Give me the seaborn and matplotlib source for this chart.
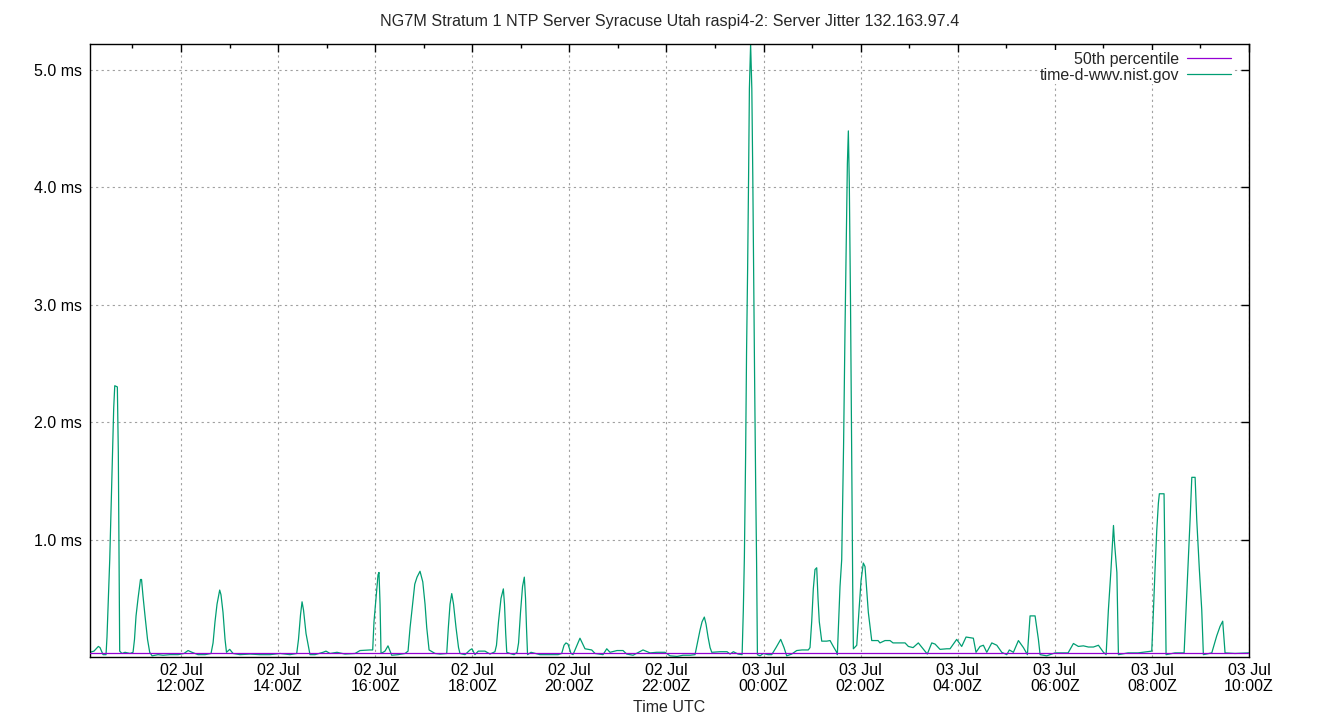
import pandas as pd
import matplotlib
matplotlib.use("Agg")
import matplotlib.pyplot as plt
import matplotlib.dates as mdates
import seaborn as sns

# minutes after 02 Jul 10:00Z and server jitter in ms
minutes = [7.5, 12.4, 17.8, 19.9, 23.6, 27.3, 28.5, 30.4, 31.9, 33.1, 34.4, 35.6, 36.8, 38.1,
           41.3, 42.5, 43.7, 44.2, 47.1, 50.8, 57.0, 60.7, 62.5, 64.4, 66.9, 69.9, 71.2, 73.0,
           75.5, 78.6, 81.3, 84.2, 91.6, 97.8, 106.4, 116.3, 123.7, 128.7, 133.6, 141.0, 149.7,
           157.1, 159.6, 162.0, 164.5, 167.8, 169.4, 171.9, 174.4, 176.2, 180.2, 184.3, 192.9,
           205.3, 217.6, 230.0, 242.4, 254.7, 263.0, 265.2, 267.7, 269.6, 271.4, 274.5, 279.4,
           285.6, 295.5, 299.2, 304.2, 312.8, 322.7, 335.1, 341.2, 353.6, 356.9, 358.5, 361.0,
           363.5, 364.7, 366.0, 367.2, 372.1, 375.8, 380.4, 388.2, 396.9, 400.6, 403.1, 405.5,
           408.9, 411.7, 415.4, 418.8, 421.6, 423.7, 426.6, 434.0, 440.1, 448.4, 450.4, 452.5,
           454.6, 456.8, 459.9, 463.0, 464.8, 471.0, 477.2, 479.6, 483.3, 487.4, 495.7, 501.9,
           508.0, 509.9, 512.4, 515.5, 518.4, 519.8, 521.3, 522.6, 526.6, 531.6, 535.3, 537.2,
           539.6, 542.1, 544.3, 545.8, 547.0, 548.3, 552.6, 563.7, 576.1, 586.0, 590.5, 593.4,
           595.8, 598.3, 602.0, 604.5, 613.1, 619.3, 627.6, 631.7, 641.6, 646.2, 650.2, 658.9,
           666.3, 670.9, 678.7, 691.0, 699.7, 708.0, 718.2, 724.4, 733.1, 740.5, 749.2, 755.3,
           759.1, 761.5, 764.0, 766.8, 768.9, 771.4, 773.9, 776.0, 786.2, 794.9, 798.6, 802.7,
           808.5, 813.5, 815.0, 816.3, 817.8, 819.0, 820.3, 821.5, 822.5, 824.0, 825.5, 826.7,
           827.7, 828.9, 830.2, 831.4, 832.4, 835.7, 839.7, 845.5, 850.1, 855.4, 861.2, 865.3,
           868.6, 874.8, 881.0, 887.5, 895.3, 897.4, 899.5, 901.5, 903.6, 905.7, 907.3, 908.9,
           911.9, 918.1, 922.2, 926.2, 930.4, 931.2, 934.5, 936.6, 938.9, 940.7, 942.3, 943.6,
           944.8, 946.0, 947.5, 948.8, 950.2, 951.0, 955.2, 958.0, 960.5, 963.3, 965.4, 969.5,
           973.7, 981.5, 983.9, 990.1, 996.3, 1000.0, 1008.7, 1014.9, 1019.0, 1024.8, 1031.3,
           1037.1, 1042.4, 1047.9, 1052.0, 1058.1, 1066.4, 1070.5, 1078.7, 1084.9, 1090.3,
           1099.3, 1102.6, 1107.6, 1111.7, 1115.9, 1122.1, 1128.3, 1134.4, 1140.6, 1143.8,
           1148.8, 1155.0, 1161.2, 1166.1, 1169.4, 1175.6, 1179.7, 1181.8, 1190.0, 1200.3,
           1216.4, 1223.0, 1229.1, 1235.3, 1241.5, 1247.7, 1253.9, 1260.1, 1263.4, 1266.2,
           1269.2, 1271.7, 1272.5, 1273.7, 1276.7, 1278.6, 1290.6, 1302.9, 1319.8, 1321.8,
           1323.9, 1326.0, 1328.0, 1329.2, 1335.0, 1336.3, 1337.5, 1348.6, 1359.8, 1362.2,
           1364.7, 1367.2, 1369.3, 1373.4, 1375.4, 1378.6, 1381.6, 1383.6, 1394.0, 1400.1,
           1404.2, 1407.5, 1410.4, 1422.7, 1440.0]
jitter_ms = [0.04, 0.05, 0.09, 0.08, 0.02, 0.02, 0.17, 0.55, 0.83, 1.15, 1.48, 1.82, 2.12, 2.31,
             2.30, 1.74, 0.62, 0.05, 0.03, 0.04, 0.03, 0.04, 0.15, 0.35, 0.50, 0.66, 0.66, 0.52,
             0.35, 0.15, 0.04, 0.01, 0.02, 0.015, 0.02, 0.02, 0.03, 0.055, 0.04, 0.02, 0.02,
             0.03, 0.12, 0.30, 0.45, 0.57, 0.53, 0.38, 0.15, 0.04, 0.065, 0.03, 0.02,
             0.025, 0.02, 0.02, 0.03, 0.02, 0.03, 0.15, 0.36, 0.47, 0.40, 0.20, 0.02,
             0.02, 0.04, 0.05, 0.03, 0.04, 0.025, 0.03, 0.055, 0.06, 0.06, 0.30, 0.50,
             0.70, 0.72, 0.45, 0.03, 0.05, 0.095, 0.015, 0.02, 0.03, 0.05, 0.25, 0.40,
             0.62, 0.68, 0.73, 0.64, 0.45, 0.25, 0.06, 0.03, 0.025, 0.03, 0.25, 0.45,
             0.54, 0.45, 0.25, 0.08, 0.03, 0.02, 0.06, 0.07, 0.02, 0.05, 0.05, 0.025,
             0.045, 0.10, 0.30, 0.50, 0.58, 0.45, 0.20, 0.04, 0.03, 0.02, 0.04, 0.12,
             0.38, 0.60, 0.68, 0.50, 0.25, 0.02, 0.04, 0.02, 0.02, 0.02, 0.03, 0.10,
             0.12, 0.11, 0.03, 0.02, 0.16, 0.07, 0.06, 0.03, 0.02, 0.07, 0.04, 0.055,
             0.055, 0.025, 0.015, 0.06, 0.035, 0.04, 0.04, 0.01, 0.005, 0.015, 0.015, 0.02,
             0.15, 0.23, 0.30, 0.34, 0.28, 0.17, 0.08, 0.04, 0.045, 0.045, 0.025, 0.045,
             0.025, 0.02, 0.40, 0.85, 1.70, 2.60, 3.30, 4.09, 4.84, 5.22, 4.84, 4.09,
             3.30, 2.40, 1.50, 0.80, 0.02, 0.01, 0.03, 0.02, 0.02, 0.08, 0.15, 0.08,
             0.01, 0.025, 0.055, 0.06, 0.06, 0.08, 0.30, 0.58, 0.745, 0.76, 0.50, 0.30,
             0.135, 0.135, 0.14, 0.09, 0.04, 0.02, 0.60, 0.83, 1.80, 2.80, 3.60, 4.20,
             4.48, 4.03, 3.00, 1.80, 0.60, 0.07, 0.10, 0.40, 0.65, 0.80, 0.77, 0.38,
             0.14, 0.14, 0.12, 0.14, 0.14, 0.12, 0.12, 0.12, 0.09, 0.08, 0.12,
             0.07, 0.025, 0.12, 0.11, 0.065, 0.07, 0.07, 0.15, 0.09, 0.17,
             0.16, 0.04, 0.09, 0.10, 0.04, 0.12, 0.10, 0.04, 0.02, 0.06,
             0.04, 0.14, 0.08, 0.02, 0.35, 0.35, 0.15, 0.02, 0.01, 0.035,
             0.035, 0.115, 0.09, 0.095, 0.085, 0.085, 0.10, 0.04, 0.02, 0.40,
             0.72, 1.03, 1.12, 0.98, 0.72, 0.02, 0.035, 0.035, 0.05, 0.38,
             0.75, 1.08, 1.31, 1.39, 1.39, 0.72, 0.02, 0.035, 0.035, 0.40,
             0.77, 1.17, 1.53, 1.53, 1.17, 0.75, 0.40, 0.02, 0.035, 0.18,
             0.26, 0.305, 0.035, 0.03, 0.035]
median_ms = 0.035

start = pd.Timestamp("2024-07-02 10:00")
df = pd.DataFrame({"time": start + pd.to_timedelta(minutes, unit="m"), "jitter": jitter_ms})

sns.set_style("white")
plt.rcParams["font.family"] = ["Liberation Sans", "DejaVu Sans"]
plt.rcParams["font.size"] = 11.5

fig = plt.figure(figsize=(13.4, 7.2), dpi=100)
ax = fig.add_axes([90 / 1340, 1 - 657 / 720, 1159 / 1340, 613 / 720])

ax.axhline(median_ms, color="#9400d3", lw=0.9, label="50th percentile", zorder=3)
sns.lineplot(x="time", y="jitter", data=df, ax=ax, color="#009e73", lw=0.9,
             estimator=None, sort=False, label="time-d-wwv.nist.gov", zorder=2)

ax.set_xlim(start + pd.Timedelta(minutes=7.5), start + pd.Timedelta(minutes=1440))
ax.set_ylim(0, 5.22)

ax.xaxis.set_major_locator(mdates.HourLocator(byhour=range(0, 24, 2)))
ax.xaxis.set_minor_locator(mdates.HourLocator())
ax.xaxis.set_major_formatter(mdates.DateFormatter("%d %b\n%H:%MZ"))
ax.set_yticks([1, 2, 3, 4, 5])
ax.set_yticklabels([f"{v:.1f} ms" for v in [1, 2, 3, 4, 5]])
for lab in ax.get_xticklabels():
    lab.set_linespacing(1.12)

ax.tick_params(which="both", direction="in", top=True, right=True, colors="black",
               labelsize=11.5)
ax.tick_params(axis="x", which="major", length=6, width=1, pad=4)
ax.tick_params(axis="x", which="minor", length=3, width=1)
ax.tick_params(axis="y", which="major", length=6, width=1, pad=6)
for s in ax.spines.values():
    s.set_color("black")
    s.set_linewidth(1)

ax.grid(True, which="major", color="#a0a0a0", linestyle=(0, (2, 3)), lw=0.8)

ax.set_title("NG7M Stratum 1 NTP Server Syracuse Utah raspi4-2: Server Jitter 132.163.97.4",
             fontsize=11.6, pad=13)
ax.set_xlabel("Time UTC", fontsize=11.5, labelpad=4.5)
ax.set_ylabel("")

handles, labels = ax.get_legend_handles_labels()
leg = ax.legend(handles, labels, loc="upper right", bbox_to_anchor=(0.9855, 0.990),
                markerfirst=False, frameon=True, fancybox=False, framealpha=1,
                edgecolor="none", facecolor="white", handlelength=2.7, handletextpad=0.5,
                labelspacing=0.06, borderpad=0.1, borderaxespad=0.0, fontsize=11.5)
leg.set_zorder(2.4)
for t in leg.get_texts():
    t.set_ha("right")

fig.savefig("out.png", dpi=100)
